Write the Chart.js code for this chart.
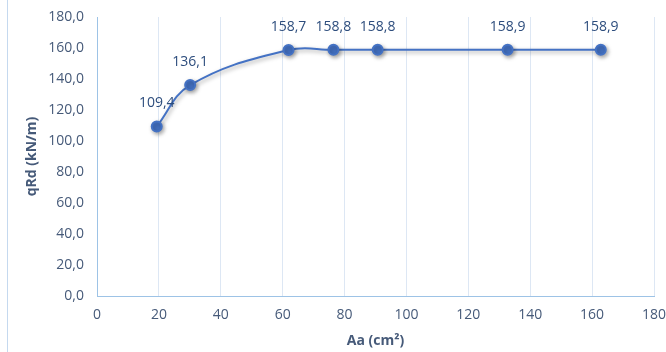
<!DOCTYPE html>
<html>
<head>
<meta charset="utf-8">
<script src="https://cdn.jsdelivr.net/npm/chart.js@4.4.1/dist/chart.umd.min.js"></script>
<style>
  html, body { margin: 0; padding: 0; background: #ffffff; }
  #wrap { width: 666px; height: 352px; position: relative; }
</style>
</head>
<body>
<div id="wrap"><canvas id="c" width="666" height="352"></canvas></div>
<script>
// Reinforcement area Aa (cm²) against design load qRd (kN/m)
const areaAa = [19.3, 30.1, 61.9, 76.4, 90.7, 132.7, 162.8];
const loadQRd = [109.4, 136.1, 158.7, 158.8, 158.8, 158.9, 158.9];
const xTitle = 'Aa (cm²)';
const yTitle = 'qRd (kN/m)';

const FONT = '"Open Sans", Carlito, Calibri, sans-serif';
const TICK_COLOR = '#465a79';
const LABEL_COLOR = '#2d4d7d';
const LINE_COLOR = '#4472c4';

const points = areaAa.map((x, i) => ({ x: x, y: loadQRd[i] }));
const fmt = v => v.toFixed(1).replace('.', ',');

// soft drop shadow under the series, as in the office chart style
const shadowPlugin = {
  id: 'seriesShadow',
  beforeDatasetsDraw(chart) {
    const ctx = chart.ctx;
    ctx.save();
    ctx.shadowColor = 'rgba(0,0,0,0.35)';
    ctx.shadowBlur = 4;
    ctx.shadowOffsetX = 1.5;
    ctx.shadowOffsetY = 2;
  },
  afterDatasetsDraw(chart) {
    chart.ctx.restore();
  }
};

// value labels above each marker, plus the chart frame edge
const labelPlugin = {
  id: 'valueLabels',
  afterDraw(chart) {
    const ctx = chart.ctx;
    ctx.save();
    ctx.strokeStyle = '#c5d9ef';
    ctx.lineWidth = 1;
    ctx.beginPath();
    ctx.moveTo(7.5, 0);
    ctx.lineTo(7.5, 352);
    ctx.stroke();

    const meta = chart.getDatasetMeta(0);
    ctx.font = '14px ' + FONT;
    ctx.fillStyle = LABEL_COLOR;
    ctx.textAlign = 'center';
    ctx.textBaseline = 'middle';
    meta.data.forEach((pt, i) => {
      ctx.fillText(fmt(loadQRd[i]), pt.x, pt.y - 23);
    });
    ctx.restore();
  }
};

new Chart(document.getElementById('c'), {
  type: 'scatter',
  data: {
    datasets: [{
      data: points,
      showLine: true,
      tension: 0.4,
      borderColor: LINE_COLOR,
      borderWidth: 2,
      pointBackgroundColor: LINE_COLOR,
      pointBorderColor: LINE_COLOR,
      pointRadius: 5,
      pointHoverRadius: 5
    }]
  },
  options: {
    responsive: false,
    animation: false,
    devicePixelRatio: 1,
    layout: { padding: { left: 0, right: 12, top: 17, bottom: 0 } },
    plugins: {
      legend: { display: false },
      tooltip: { enabled: false }
    },
    scales: {
      x: {
        type: 'linear',
        min: 0,
        max: 180,
        ticks: {
          stepSize: 20,
          padding: 11,
          color: TICK_COLOR,
          font: { family: FONT, size: 14 }
        },
        grid: { color: '#dde7f4', drawTicks: false, lineWidth: 1 },
        border: { color: '#9dc3e6', width: 1 },
        title: {
          display: true,
          text: xTitle,
          color: TICK_COLOR,
          font: { family: FONT, size: 14, weight: 'bold' },
          padding: { bottom: 3, top: 0 }
        },
        afterFit(scale) {
          scale.height = 56;
          scale.paddingLeft = 0;
          scale.paddingRight = 0;
        }
      },
      y: {
        type: 'linear',
        min: 0,
        max: 180,
        ticks: {
          stepSize: 20,
          padding: 13,
          color: TICK_COLOR,
          font: { family: FONT, size: 14 },
          callback: v => fmt(v)
        },
        grid: { display: false, drawTicks: false },
        border: { color: '#9dc3e6', width: 1 },
        title: {
          display: true,
          text: yTitle,
          color: TICK_COLOR,
          font: { family: FONT, size: 14, weight: 'bold' },
          padding: { top: 24, bottom: 0 }
        },
        afterFit(scale) {
          scale.width = 97;
          scale.paddingTop = 0;
          scale.paddingBottom = 0;
        }
      }
    }
  },
  plugins: [shadowPlugin, labelPlugin]
});
</script>
</body>
</html>
